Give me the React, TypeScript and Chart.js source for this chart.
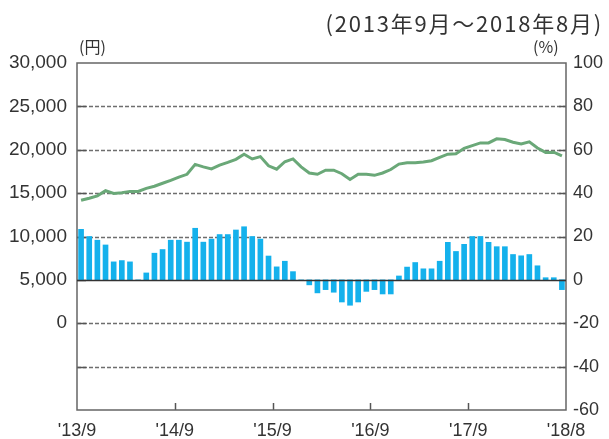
import React, { useEffect, useRef } from "react";
import { Chart, registerables } from "chart.js";

Chart.register(...registerables);

// Monthly distribution (yen, left axis) Sep 2013 – Aug 2018
const distributionYen: number[] = [
  14170, 14410, 14690, 15280, 14960, 15040, 15200, 15200, 15550, 15790, 16140, 16460,
  16850, 17170, 18310, 18030, 17800, 18230, 18540, 18900, 19490, 18940, 19210, 18150,
  17760, 18620, 18940, 18030, 17320, 17170, 17640, 17640, 17240, 16570, 17170, 17170,
  17050, 17320, 17720, 18350, 18500, 18500, 18580, 18740, 19130, 19490, 19530, 20160,
  20470, 20790, 20790, 21260, 21180, 20870, 20670, 20910, 20200, 19690, 19720, 19290,
];

// Year-on-year change (%, right axis)
const changePct: number[] = [
  23.3, 20.0, 18.3, 16.1, 8.3, 8.9, 8.3, 0, 3.2, 12.3, 14.0, 18.3,
  18.3, 17.4, 23.8, 17.4, 18.8, 20.9, 20.9, 23.0, 24.5, 20.0, 18.8, 11.0,
  6.0, 8.6, 3.8, 0, -2.3, -6.0, -4.5, -5.7, -10.2, -11.7, -10.2, -5.3,
  -4.5, -6.5, -6.5, 1.8, 5.9, 8.0, 5.1, 5.1, 8.6, 17.3, 13.1, 16.4,
  20.0, 20.0, 17.3, 15.3, 15.3, 11.7, 11.1, 11.7, 6.5, 1.0, 1.0, -4.5,
];

const xTickPositions: number[] = [0, 12, 24, 36, 48, 60];
const xTickLabels: string[] = ["'13/9", "'14/9", "'15/9", "'16/9", "'17/9", "'18/8"];

const subtitle = "(2013年9月～2018年8月)";
const leftUnit = "(円)";
const rightUnit = "(%)";

const TICK_FONT = { family: "'Liberation Sans', Arial, sans-serif", size: 18 };
const TEXT_COLOR = "#333333";

const framePlugin = {
  id: "frame",
  beforeDatasetsDraw(chart: any) {
    const ctx: CanvasRenderingContext2D = chart.ctx;
    const a = chart.chartArea;
    const y2 = chart.scales.y2;
    const xs = chart.scales.x;
    const L = a.left, R = a.right, T = a.top, B = a.bottom;
    ctx.save();
    // dashed grid lines
    ctx.strokeStyle = "#6e6e6e";
    ctx.lineWidth = 1.5;
    ctx.setLineDash([4, 2]);
    for (const t of y2.ticks) {
      const v = t.value;
      if (v === 0 || v === y2.min || v === y2.max) continue;
      const py = Math.round(y2.getPixelForValue(v)) + 0.5;
      ctx.beginPath();
      ctx.moveTo(L, py);
      ctx.lineTo(R, py);
      ctx.stroke();
    }
    ctx.setLineDash([]);
    // inner tick marks on both vertical axes
    ctx.strokeStyle = "#555555";
    for (const t of y2.ticks) {
      const v = t.value;
      if (v === y2.min || v === y2.max) continue;
      const py = Math.round(y2.getPixelForValue(v)) + 0.5;
      ctx.beginPath();
      ctx.moveTo(L, py);
      ctx.lineTo(L + 9, py);
      ctx.stroke();
      ctx.beginPath();
      ctx.moveTo(R - 7, py);
      ctx.lineTo(R, py);
      ctx.stroke();
    }
    // inner tick marks on the time axis
    for (const v of xTickPositions) {
      if (v === xs.min || v === xs.max) continue;
      const px = Math.round(xs.getPixelForValue(v)) + 0.5;
      ctx.beginPath();
      ctx.moveTo(px, B);
      ctx.lineTo(px, B - 7);
      ctx.stroke();
    }
    // frame
    ctx.strokeStyle = "#666666";
    ctx.lineWidth = 1.5;
    ctx.beginPath();
    ctx.moveTo(L, T);
    ctx.lineTo(R, T);
    ctx.lineTo(R, B);
    ctx.lineTo(L, B);
    ctx.closePath();
    ctx.stroke();
    ctx.restore();
  },
  afterDatasetsDraw(chart: any) {
    const ctx: CanvasRenderingContext2D = chart.ctx;
    const a = chart.chartArea;
    const y2 = chart.scales.y2;
    ctx.save();
    ctx.setLineDash([]);
    ctx.strokeStyle = "#333333";
    ctx.lineWidth = 1.5;
    const zy = Math.round(y2.getPixelForValue(0)) + 0.5;
    ctx.beginPath();
    ctx.moveTo(a.left, zy);
    ctx.lineTo(a.right, zy);
    ctx.stroke();
    ctx.restore();
  },
};

export default function App() {
  const canvasRef = useRef<HTMLCanvasElement | null>(null);

  useEffect(() => {
    if (!canvasRef.current) return;
    const chart = new Chart(canvasRef.current, {
      type: "bar",
      data: {
        datasets: [
          {
            type: "line",
            label: "分配金",
            data: distributionYen.map((v, i) => ({ x: i + 0.5, y: v })),
            yAxisID: "y",
            borderColor: "#6aa878",
            borderWidth: 3,
            pointRadius: 0,
            tension: 0,
            order: 0,
          } as any,
          {
            type: "bar",
            label: "前年比",
            data: changePct.map((v, i) => ({ x: i + 0.5, y: v })),
            yAxisID: "y2",
            backgroundColor: "#14b1ec",
            barThickness: 5,
            order: 1,
          } as any,
        ],
      },
      options: {
        responsive: false,
        animation: false,
        devicePixelRatio: 1,
        layout: { padding: { top: 63, left: 0, right: 0, bottom: 0 } },
        plugins: { legend: { display: false }, tooltip: { enabled: false } },
        scales: {
          x: {
            type: "linear",
            min: 0,
            max: 60,
            offset: false,
            grid: { display: false, drawTicks: false, tickLength: 0 },
            border: { display: false },
            afterBuildTicks: (scale: any) => {
              scale.ticks = xTickPositions.map((v) => ({ value: v }));
            },
            afterFit: (scale: any) => {
              scale.height = 29;
            },
            ticks: {
              autoSkip: false,
              maxRotation: 0,
              padding: 10,
              color: TEXT_COLOR,
              font: TICK_FONT,
              callback: (v: any) => {
                const idx = xTickPositions.indexOf(Number(v));
                return idx >= 0 ? xTickLabels[idx] : "";
              },
            },
          },
          y: {
            position: "left",
            min: -10000,
            max: 30000,
            grid: { display: false, drawTicks: false, tickLength: 0 },
            border: { display: false },
            afterFit: (scale: any) => {
              scale.width = 77;
            },
            ticks: {
              stepSize: 5000,
              padding: 10,
              color: TEXT_COLOR,
              font: { ...TICK_FONT, size: 19 },
              callback: (v: any) => (Number(v) < 0 ? "" : Number(v).toLocaleString("en-US")),
            },
          },
          y2: {
            position: "right",
            min: -60,
            max: 100,
            grid: { display: false, drawTicks: false, tickLength: 0 },
            border: { display: false },
            afterFit: (scale: any) => {
              scale.width = 43;
            },
            ticks: {
              stepSize: 20,
              padding: 7,
              color: TEXT_COLOR,
              font: TICK_FONT,
            },
          },
        },
      },
      plugins: [framePlugin],
    } as any);
    return () => chart.destroy();
  }, []);

  return (
    <div
      style={{
        position: "fixed",
        left: 0,
        top: 0,
        width: 609,
        height: 439,
        background: "#ffffff",
        overflow: "hidden",
      }}
    >
      <canvas ref={canvasRef} width={609} height={439} style={{ position: "absolute", left: 0, top: 0 }} />
      <div
        style={{
          position: "absolute",
          right: 6,
          top: 9,
          fontFamily: "'Noto Sans CJK JP', sans-serif",
          fontSize: 22,
          letterSpacing: 1.8,
          lineHeight: "26px",
          color: TEXT_COLOR,
          whiteSpace: "nowrap",
        }}
      >
        {subtitle}
      </div>
      <div
        style={{
          position: "absolute",
          left: 79,
          top: 36,
          fontFamily: "'Noto Sans CJK JP', sans-serif",
          fontSize: 16,
          lineHeight: "20px",
          color: TEXT_COLOR,
          whiteSpace: "nowrap",
        }}
      >
        {leftUnit}
      </div>
      <div
        style={{
          position: "absolute",
          left: 533,
          top: 36,
          fontFamily: "'Noto Sans CJK JP', sans-serif",
          fontSize: 16,
          lineHeight: "20px",
          color: TEXT_COLOR,
          whiteSpace: "nowrap",
        }}
      >
        {rightUnit}
      </div>
    </div>
  );
}
